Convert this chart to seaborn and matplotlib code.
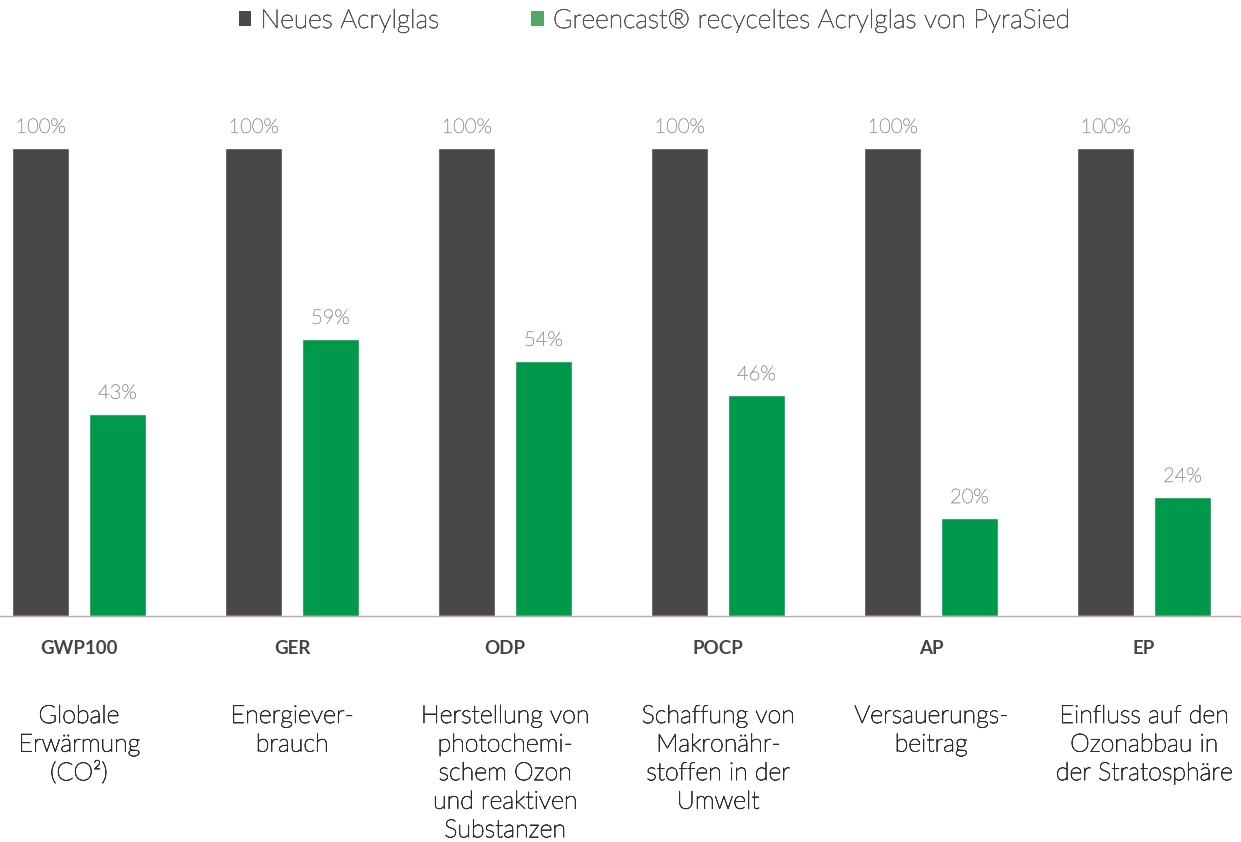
import matplotlib
matplotlib.use("Agg")
import matplotlib.pyplot as plt
import matplotlib.transforms as mtransforms
import matplotlib.patheffects as pe
from matplotlib.patches import Patch
import seaborn as sns
import pandas as pd

categories = ["GWP100", "GER", "ODP", "POCP", "AP", "EP"]
descriptions = [
    "Globale\nErwärmung\n(CO²)",
    "Energiever-\nbrauch",
    "Herstellung von\nphotochemi-\nschem Ozon\nund reaktiven\nSubstanzen",
    "Schaffung von\nMakronähr-\nstoffen in der\nUmwelt",
    "Versauerungs-\nbeitrag",
    "Einfluss auf den\nOzonabbau in\nder Stratosphäre",
]
series_names = ["Neues Acrylglas", "Greencast® recyceltes Acrylglas von PyraSied"]
# bar heights as drawn in the picture
new_values = [100, 100, 100, 100, 100, 100]
recycled_values = [43.2, 59.2, 54.5, 47.2, 20.9, 25.4]
# printed value labels
new_labels = ["100%", "100%", "100%", "100%", "100%", "100%"]
recycled_labels = ["43%", "59%", "54%", "46%", "20%", "24%"]

DARK = "#4a4846"
GREEN = "#00984a"

sns.set_theme(style="white")
plt.rcParams['font.family'] = ['Lato', 'DejaVu Sans']

df = pd.DataFrame({
    "Kategorie": categories * 2,
    "Serie": [series_names[0]] * len(categories) + [series_names[1]] * len(categories),
    "Wert": new_values + recycled_values,
})

W, H = 1241, 842
fig = plt.figure(figsize=(W / 100, H / 100), dpi=100)
ax = fig.add_axes([0, 1 - 616 / H, 1, 468 / H])

sns.barplot(data=df, x="Kategorie", y="Wert", hue="Serie", order=categories,
            hue_order=series_names, palette=[DARK, GREEN], saturation=1,
            width=0.72, gap=0.255, ax=ax, legend=False, errorbar=None)

ax.set_xlim(-0.371, 5.455)
ax.set_ylim(0, 100)
for s in ["left", "top", "right"]:
    ax.spines[s].set_visible(False)
ax.spines["bottom"].set_color("#c4a6a6")
ax.spines["bottom"].set_linewidth(1.0)
ax.set_yticks([])
ax.set_xlabel("")
ax.set_ylabel("")
ax.tick_params(axis="x", length=0, pad=17.5)
ax.set_xticks(range(len(categories)))
ax.set_xticklabels(categories, fontsize=13.5, fontweight="bold", color="#444444")

val_fx = [pe.withStroke(linewidth=0.3, foreground="#9a9a9a")]
for cont, labs in zip(ax.containers, [new_labels, recycled_labels]):
    texts = ax.bar_label(cont, labels=labs, padding=8,
                         color="#9a9a9a", fontsize=14.5, fontweight="light")
    for t in texts:
        t.set_path_effects(val_fx)

desc_fx = [pe.withStroke(linewidth=0.55, foreground="#2e2e2e")]
trans = mtransforms.blended_transform_factory(ax.transData, fig.transFigure)
for i, d in enumerate(descriptions):
    ax.text(i, 1 - 704 / H, d, transform=trans, ha="center", va="top",
            fontsize=18, linespacing=1.24, color="#2e2e2e", fontweight="light",
            multialignment="center", path_effects=desc_fx)

handles = [Patch(facecolor="#4a4a4a", edgecolor="none"),
           Patch(facecolor="#52a865", edgecolor="none")]
leg = fig.legend(handles, series_names, loc="center", bbox_to_anchor=(0.527, 1 - 21 / H),
                 ncol=2, frameon=False, fontsize=19, handlelength=0.49, handleheight=0.49,
                 handletextpad=0.34, columnspacing=3.5)
leg_fx = [pe.withStroke(linewidth=0.5, foreground="#555555")]
for t in leg.get_texts():
    t.set_color("#555555")
    t.set_fontweight("light")
    t.set_path_effects(leg_fx)

fig.savefig("out.png", dpi=100)
